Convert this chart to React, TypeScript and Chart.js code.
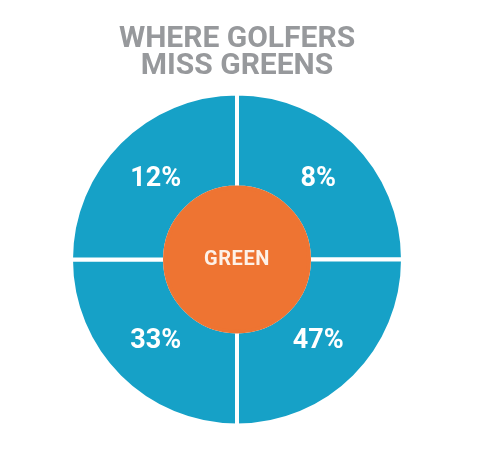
import React, { useEffect, useRef } from "react";
import { Chart, registerables } from "chart.js";

Chart.register(...registerables);

// Data
const titleLines = ["WHERE GOLFERS", "MISS GREENS"];
// Quadrants listed clockwise from 12 o'clock
const quadrants = ["Long right", "Short right", "Short left", "Long left"];
const missShares = [8, 47, 33, 12]; // % of missed greens per quadrant
const quadrantSpan = [90, 90, 90, 90]; // degrees of the ring each quadrant covers
const centerLabel = "GREEN";
const centerSpan = [360];

const BLUE = "#16a1c7";
const ORANGE = "#ee7432";
const GRAY = "#97999c";

const labelPlugin = {
  id: "quadrantLabels",
  afterDraw(chart: any) {
    const ctx = chart.ctx;
    ctx.save();
    ctx.textAlign = "center";
    ctx.textBaseline = "middle";
    const ring = chart.getDatasetMeta(0);
    ring.data.forEach((arc: any, i: number) => {
      const p = arc.getProps(["x", "y", "startAngle", "endAngle", "innerRadius", "outerRadius"], true);
      const mid = (p.startAngle + p.endAngle) / 2;
      const r = p.innerRadius + (p.outerRadius - p.innerRadius) * 0.457;
      ctx.fillStyle = "#ffffff";
      ctx.font = "bold 27px Roboto";
      ctx.fillText(missShares[i] + "%", p.x + Math.cos(mid) * r, p.y + Math.sin(mid) * r + 1);
    });
    const core = chart.getDatasetMeta(1);
    const c = core.data[0];
    if (c) {
      const p = c.getProps(["x", "y"], true);
      ctx.fillStyle = "#fdf1e8";
      ctx.font = "bold 20px Roboto";
      try { (ctx as any).letterSpacing = "0.6px"; } catch (e) {}
      ctx.fillText(centerLabel, p.x, p.y + 1);
    }
    ctx.restore();
  },
};

export default function App() {
  const ref = useRef<HTMLCanvasElement>(null);
  useEffect(() => {
    if (!ref.current) return;
    const chart = new Chart(ref.current, {
      type: "doughnut",
      data: {
        labels: quadrants,
        datasets: [
          {
            data: quadrantSpan,
            backgroundColor: BLUE,
            borderColor: "#ffffff",
            borderWidth: 4,
            weight: 0.5663,
            order: 1,
          } as any,
          {
            data: centerSpan,
            backgroundColor: ORANGE,
            borderColor: ORANGE,
            borderWidth: 4,
            weight: 0.4337,
            order: 0,
          } as any,
        ],
      },
      options: {
        animation: false,
        responsive: true,
        maintainAspectRatio: false,
        events: [],
        cutout: 0,
        layout: { padding: { left: 69, right: 88, top: 0, bottom: 32.5 } },
        plugins: {
          legend: { display: false },
          tooltip: { enabled: false },
          title: {
            display: true,
            text: titleLines,
            color: GRAY,
            font: { family: "Roboto", size: 30, weight: "bold", lineHeight: 0.89 },
            padding: { top: 26, bottom: 12 },
          },
        },
      } as any,
      plugins: [labelPlugin],
    });
    return () => chart.destroy();
  }, []);
  return (
    <div style={{ position: "fixed", left: 0, top: 0, width: 493, height: 460, background: "#ffffff" }}>
      <canvas ref={ref} />
    </div>
  );
}
